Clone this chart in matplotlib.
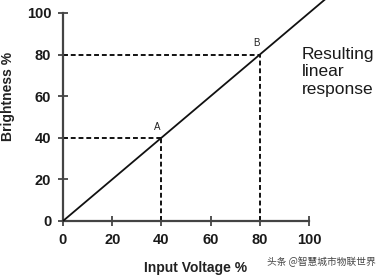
import matplotlib.pyplot as plt

# ── Data ──────────────────────────────────────────────────────────────────────
response_x = [0, 107]
response_y = [0, 107]
point_names = ['A', 'B']
point_x = [40, 80]
point_y = [40, 80]
ticks = [0, 20, 40, 60, 80, 100]

plt.rcParams['font.family'] = ['Liberation Sans', 'DejaVu Sans']

fig = plt.figure(figsize=(3.85, 2.77), dpi=100)
ax = fig.add_axes([0.1636, 0.2022, 0.639, 0.751])
ax.set_xlim(0, 100)
ax.set_ylim(0, 100)

# linear response line (runs past the frame)
ax.plot(response_x, response_y, color='#111111', lw=1.3, clip_on=False,
        solid_capstyle='butt', zorder=3)

# dashed guide lines for A and B
for name, px, py in zip(point_names, point_x, point_y):
    ax.plot([0, px], [py, py], color='#111111', lw=1.4, ls=(0, (2.5, 1.5)))
    ax.plot([px, px], [0, py], color='#111111', lw=1.4, ls=(0, (2.5, 1.5)))
    ax.text(px - 1.5, py + 3, name, fontsize=7, ha='center', va='bottom',
            color='#222222')

for side in ['top', 'right']:
    ax.spines[side].set_visible(False)
for side in ['left', 'bottom']:
    ax.spines[side].set_color('#444444')
    ax.spines[side].set_linewidth(1.6)

ax.set_xticks(ticks)
ax.set_yticks(ticks)
ax.tick_params(direction='inout', length=7, width=1.3, color='#444444',
               labelsize=10.5, pad=5)
for lab in ax.get_xticklabels() + ax.get_yticklabels():
    lab.set_fontweight('bold')
    lab.set_color('#1a1a1a')

ax.set_xlabel('Input Voltage %', fontsize=10, fontweight='bold', color='#222222')
ax.set_ylabel('Brightness %', fontsize=10, fontweight='bold', color='#222222')
ax.xaxis.set_label_coords(0.54, -0.19)
ax.yaxis.set_label_coords(-0.195, 0.6)

fig.text(302 / 385, 1 - 72 / 277, 'Resulting\nlinear\nresponse', fontsize=12.5,
         ha='left', va='center', color='#1a1a1a', linespacing=1.2)

fig.text(0.975, 1 - 262 / 277, '头条 @智慧城市物联世界', fontsize=7,
         ha='right', va='center', color='#444444',
         family=['Noto Sans CJK SC', 'DejaVu Sans'])

fig.savefig('out.png', dpi=100)
